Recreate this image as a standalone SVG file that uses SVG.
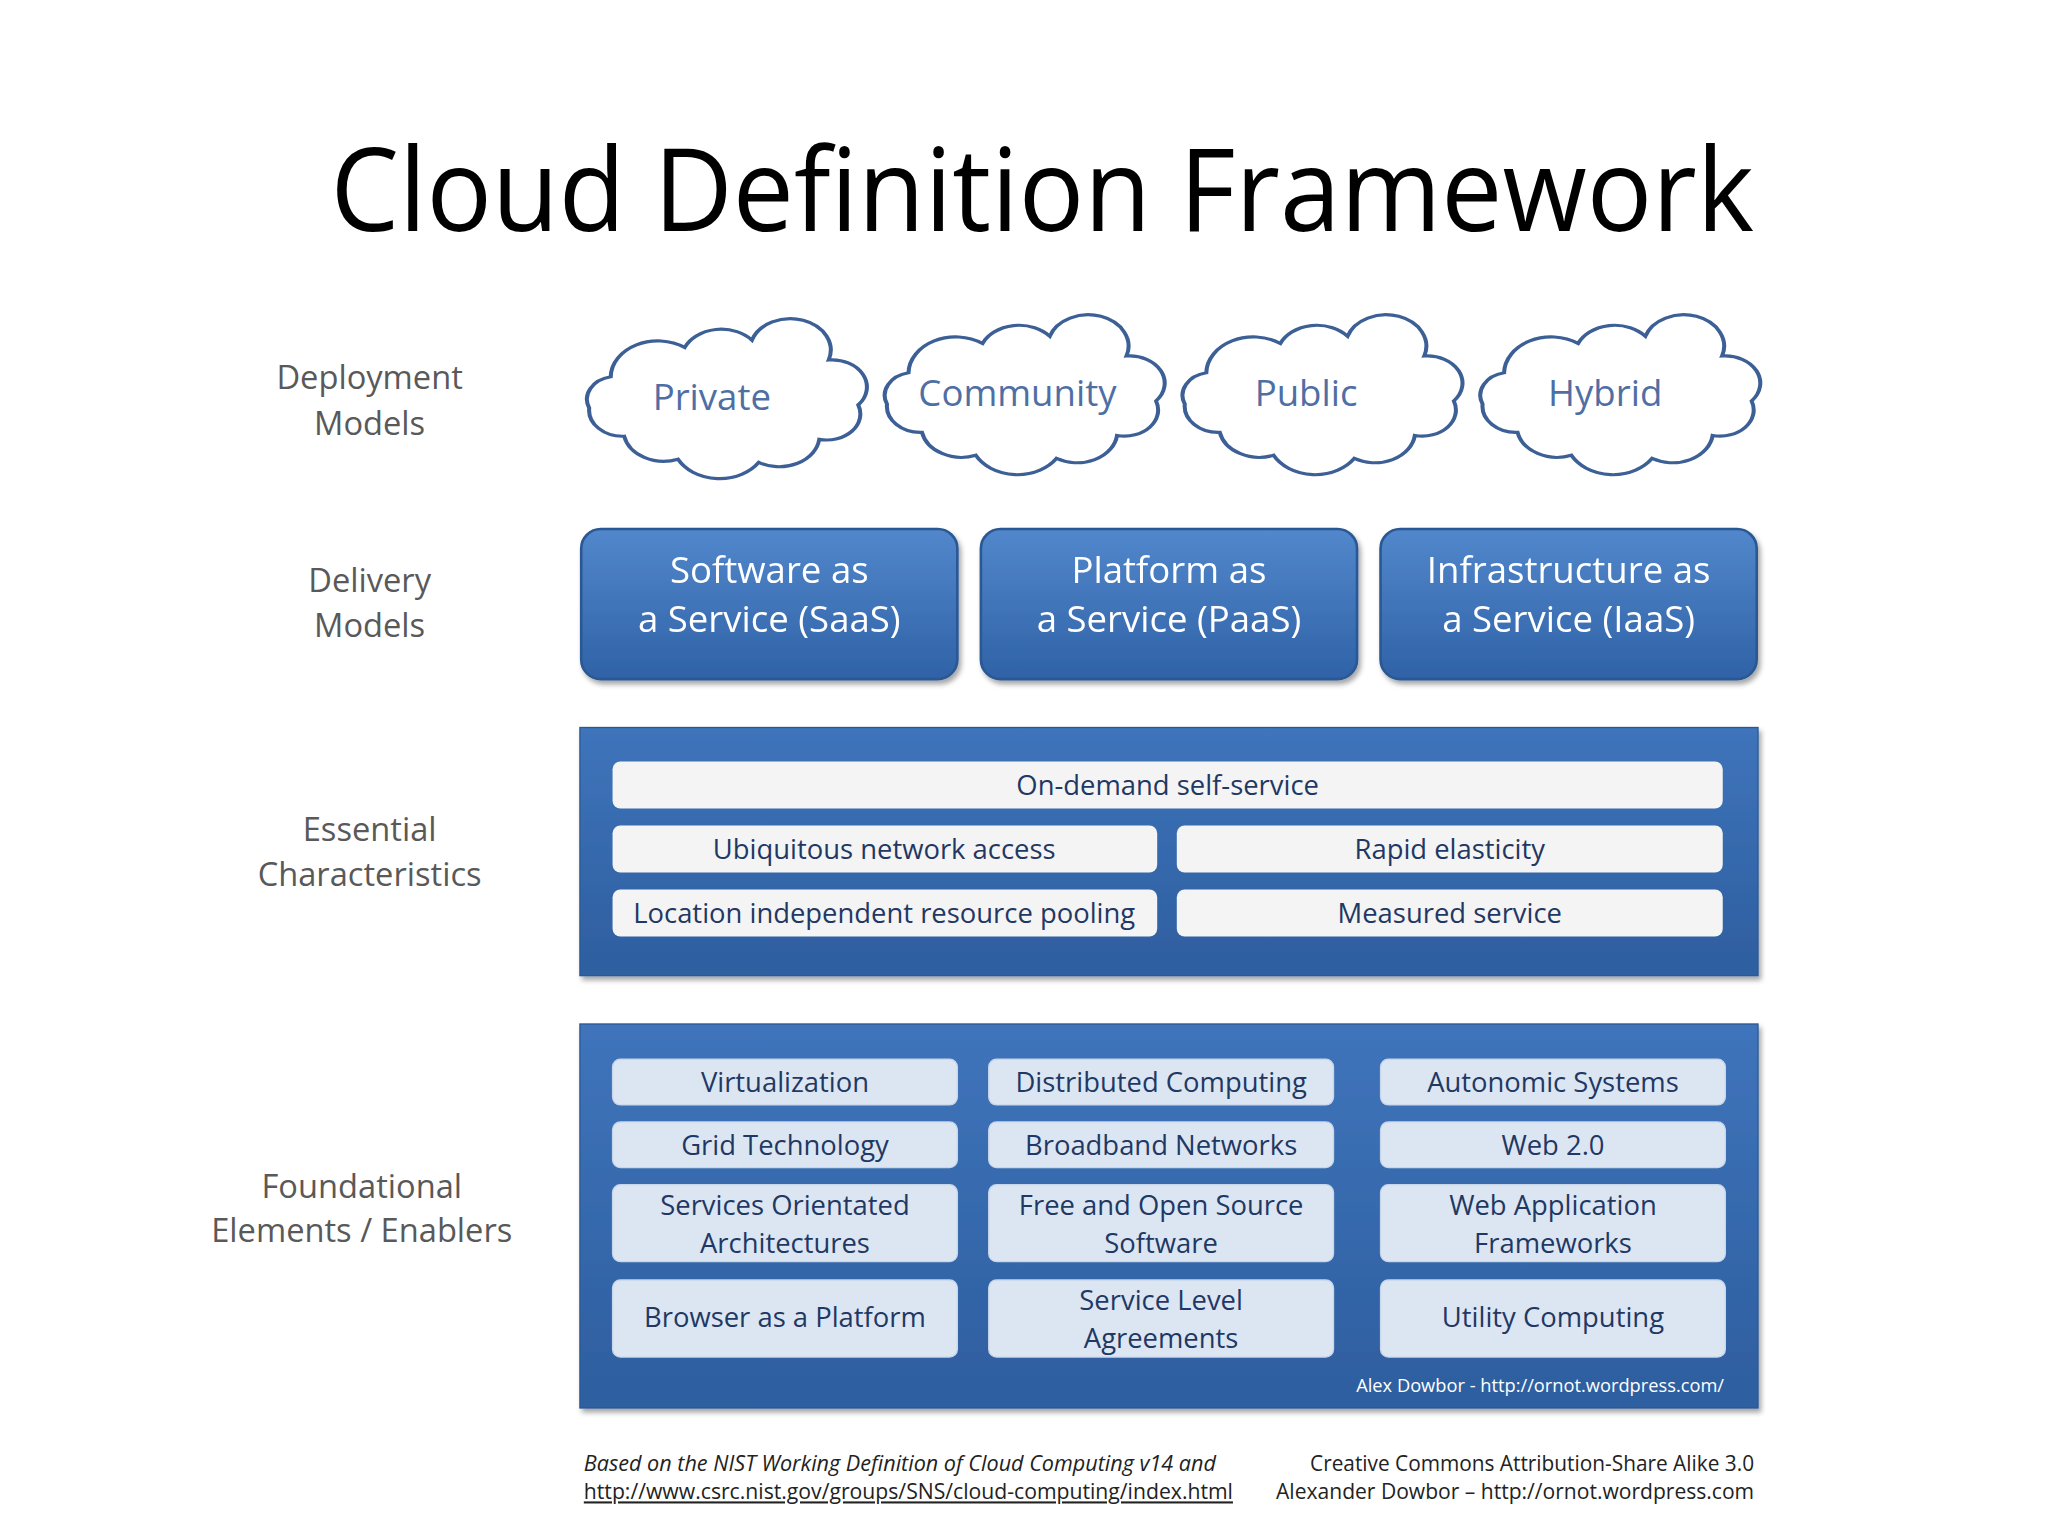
<svg xmlns="http://www.w3.org/2000/svg" width="2048" height="1536" viewBox="0 0 2048 1536">
<defs>
<linearGradient id="bg" x1="0" y1="0" x2="0" y2="1"><stop offset="0" stop-color="#5287cc"/><stop offset="1" stop-color="#2f62a6"/></linearGradient>
<linearGradient id="pg" x1="0" y1="0" x2="0" y2="1"><stop offset="0" stop-color="#3f74bb"/><stop offset="1" stop-color="#2d5e9f"/></linearGradient>
<path id="cloud" d="M -70,35 A 25 25 0 0 1 -96,8 A 22 22 0 0 1 -80,-22 A 35 35 0 0 1 -25,-50 A 30 30 0 0 1 25,-57 A 30 30 0 0 1 82,-38 A 26 26 0 0 1 104,5 A 25 25 0 0 1 75,38 A 30 30 0 0 1 30,60 A 35 35 0 0 1 -30,57 A 30 30 0 0 1 -70,35 Z"/>
<filter id="sh" x="-5%" y="-5%" width="110%" height="115%"><feDropShadow dx="2" dy="3" stdDeviation="2" flood-color="#000" flood-opacity="0.35"/></filter>
</defs>
<style>
text{font-family:"Open Sans","Liberation Sans",sans-serif}
.lbl{font-size:25px;fill:#595959;text-anchor:middle}
.cl{fill:#fff;stroke:#3c5f96;stroke-width:3;vector-effect:non-scaling-stroke}
.ct{font-size:28px;fill:#4f6fa4;text-anchor:middle}
.dv{fill:url(#bg);stroke:#2b5894;stroke-width:2}
.dt{font-size:28px;fill:#fff;text-anchor:middle}
.pn{fill:url(#pg);stroke:#2b5894;stroke-width:1}
.eb{fill:#f4f4f4}
.fb{fill:#dce6f2;stroke:#c8d6ea}
.it{font-size:21px;fill:#1f3864;text-anchor:middle}
.ft{font-size:16px;fill:#222}
</style>
<rect width="2048" height="1536" fill="#fff"/>
<g transform="scale(1.3061)">
<text id="title" x="798" y="177" font-size="88" text-anchor="middle" fill="#000" textLength="1090" lengthAdjust="spacingAndGlyphs">Cloud Definition Framework</text>
<g id="labels">
<text class="lbl" x="283" y="298">Deployment</text><text class="lbl" x="283" y="333">Models</text>
<text class="lbl" x="283" y="453">Delivery</text><text class="lbl" x="283" y="488">Models</text>
<text class="lbl" x="283" y="644">Essential</text><text class="lbl" x="283" y="678">Characteristics</text>
<text class="lbl" x="277" y="917">Foundational</text><text class="lbl" x="277" y="951">Elements / Enablers</text>
</g>
<g id="clouds">
<g id="c-private"><use href="#cloud" class="cl" transform="translate(550,306) scale(1.03,0.8)"/><text class="ct" x="545" y="314">Private</text></g>
<g id="c-community"><use href="#cloud" class="cl" transform="translate(778,303) scale(1.03,0.8)"/><text class="ct" x="779" y="311">Community</text></g>
<g id="c-public"><use href="#cloud" class="cl" transform="translate(1006,303) scale(1.03,0.8)"/><text class="ct" x="1000" y="311">Public</text></g>
<g id="c-hybrid"><use href="#cloud" class="cl" transform="translate(1234,303) scale(1.03,0.8)"/><text class="ct" x="1229" y="311">Hybrid</text></g>
</g>
<g id="delivery" filter="url(#sh)">
<g id="saas"><rect class="dv" x="445" y="405" width="288" height="115" rx="15"/><text class="dt" x="589" y="446">Software as</text><text class="dt" x="589" y="484">a Service (SaaS)</text></g>
<g id="paas"><rect class="dv" x="751" y="405" width="288" height="115" rx="15"/><text class="dt" x="895" y="446">Platform as</text><text class="dt" x="895" y="484">a Service (PaaS)</text></g>
<g id="iaas"><rect class="dv" x="1057" y="405" width="288" height="115" rx="15"/><text class="dt" x="1201" y="446">Infrastructure as</text><text class="dt" x="1201" y="484">a Service (IaaS)</text></g>
</g>
<g id="essential">
<rect class="pn" x="444" y="557" width="902" height="190" filter="url(#sh)"/>
<rect class="eb" x="469" y="583" width="850" height="36" rx="6"/><text class="it" x="894" y="609">On-demand self-service</text>
<rect class="eb" x="469" y="632" width="417" height="36" rx="6"/><text class="it" x="677" y="658">Ubiquitous network access</text>
<rect class="eb" x="901" y="632" width="418" height="36" rx="6"/><text class="it" x="1110" y="658">Rapid elasticity</text>
<rect class="eb" x="469" y="681" width="417" height="36" rx="6"/><text class="it" x="677" y="707">Location independent resource pooling</text>
<rect class="eb" x="901" y="681" width="418" height="36" rx="6"/><text class="it" x="1110" y="707">Measured service</text>
</g>
<g id="foundational">
<rect class="pn" x="444" y="784" width="902" height="294" filter="url(#sh)"/>
<rect class="fb" x="469" y="811" width="264" height="35" rx="6"/><text class="it" x="601" y="836">Virtualization</text>
<rect class="fb" x="757" y="811" width="264" height="35" rx="6"/><text class="it" x="889" y="836">Distributed Computing</text>
<rect class="fb" x="1057" y="811" width="264" height="35" rx="6"/><text class="it" x="1189" y="836">Autonomic Systems</text>
<rect class="fb" x="469" y="859" width="264" height="35" rx="6"/><text class="it" x="601" y="884">Grid Technology</text>
<rect class="fb" x="757" y="859" width="264" height="35" rx="6"/><text class="it" x="889" y="884">Broadband Networks</text>
<rect class="fb" x="1057" y="859" width="264" height="35" rx="6"/><text class="it" x="1189" y="884">Web 2.0</text>
<rect class="fb" x="469" y="907" width="264" height="59" rx="6"/><text class="it" x="601" y="930">Services Orientated</text><text class="it" x="601" y="959">Architectures</text>
<rect class="fb" x="757" y="907" width="264" height="59" rx="6"/><text class="it" x="889" y="930">Free and Open Source</text><text class="it" x="889" y="959">Software</text>
<rect class="fb" x="1057" y="907" width="264" height="59" rx="6"/><text class="it" x="1189" y="930">Web Application</text><text class="it" x="1189" y="959">Frameworks</text>
<rect class="fb" x="469" y="980" width="264" height="59" rx="6"/><text class="it" x="601" y="1016">Browser as a Platform</text>
<rect class="fb" x="757" y="980" width="264" height="59" rx="6"/><text class="it" x="889" y="1003">Service Level</text><text class="it" x="889" y="1032">Agreements</text>
<rect class="fb" x="1057" y="980" width="264" height="59" rx="6"/><text class="it" x="1189" y="1016">Utility Computing</text>
<text x="1320" y="1066" font-size="14" fill="#fff" text-anchor="end">Alex Dowbor - http://ornot.wordpress.com/</text>
</g>
<g id="footer">
<text class="ft" x="447" y="1126" font-style="italic" textLength="484" lengthAdjust="spacingAndGlyphs">Based on the NIST Working Definition of Cloud Computing v14 and</text>
<text class="ft" x="447" y="1148" text-decoration="underline" textLength="497" lengthAdjust="spacingAndGlyphs">http://www.csrc.nist.gov/groups/SNS/cloud-computing/index.html</text>
<text class="ft" x="1343" y="1126" text-anchor="end" textLength="340" lengthAdjust="spacingAndGlyphs">Creative Commons Attribution-Share Alike 3.0</text>
<text class="ft" x="1343" y="1148" text-anchor="end" textLength="366" lengthAdjust="spacingAndGlyphs">Alexander Dowbor – http://ornot.wordpress.com</text>
</g>
</g>
</svg>
